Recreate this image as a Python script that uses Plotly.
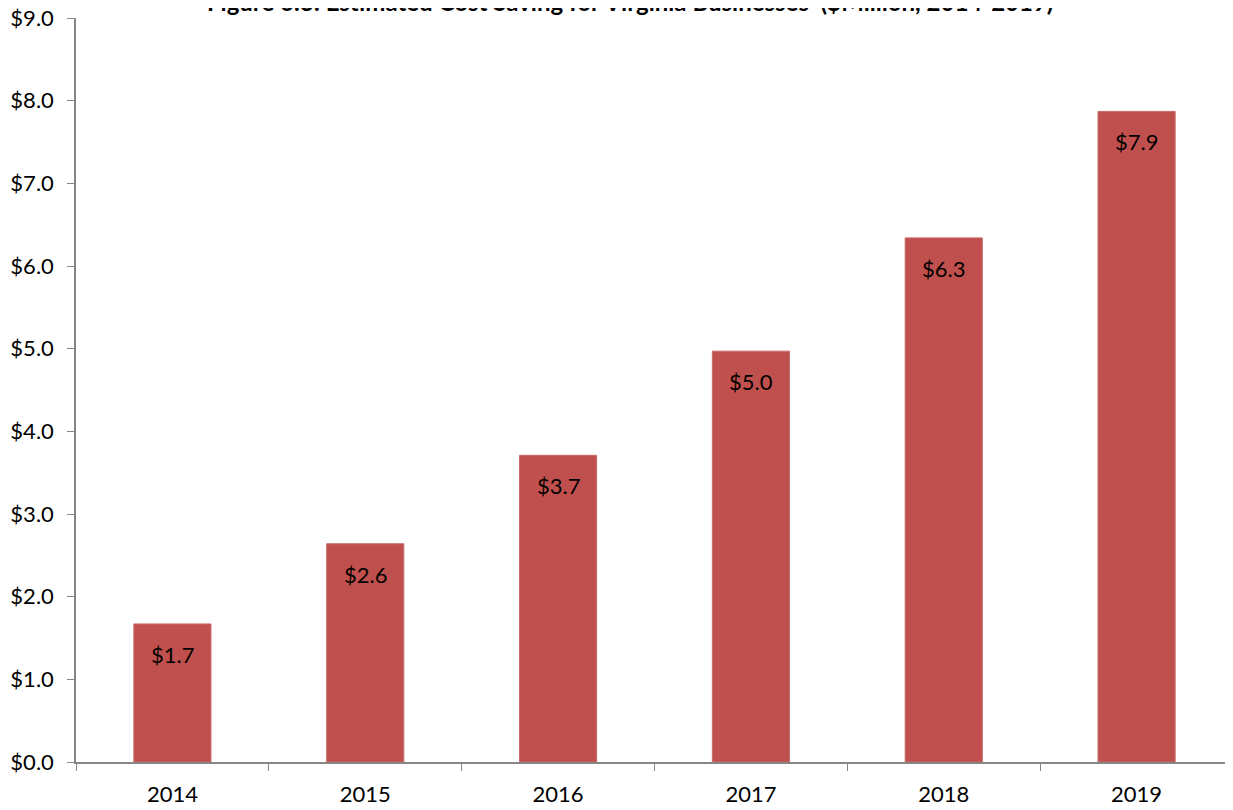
import plotly.graph_objects as go

years = ["2014", "2015", "2016", "2017", "2018", "2019"]
savings = [1.67, 2.64, 3.71, 4.97, 6.34, 7.87]
labels = ["$1.7", "$2.6", "$3.7", "$5.0", "$6.3", "$7.9"]
yticks = [0, 1, 2, 3, 4, 5, 6, 7, 8, 9]
ytick_text = ["$%.1f" % v for v in yticks]
title_text = "Figure 6.3: Estimated Cost Saving for Virginia Businesses  ($Million, 2014-2019)"

FONT = "Lato, 'Open Sans', sans-serif"

fig = go.Figure()
fig.add_trace(go.Bar(
    x=years, y=savings,
    marker=dict(color="#C0504D", line=dict(color="#C86A67", width=1)),
    width=0.4,
    hoverinfo="skip",
))

annotations = []
for i, (y, t) in enumerate(zip(savings, labels)):
    annotations.append(dict(x=i, y=y, xref="x", yref="y", text=t, showarrow=False,
                            yanchor="top", yshift=-15,
                            font=dict(family=FONT, size=22, color="#000000")))
annotations.append(dict(x=0.479, y=1.0, xref="paper", yref="paper", text="<b>" + title_text + "</b>",
                        showarrow=False, xanchor="center", yanchor="bottom",
                        font=dict(family=FONT, size=24, color="#000000")))

fig.update_layout(
    width=1233, height=810,
    margin=dict(l=68, r=8, t=10, b=56),
    paper_bgcolor="white", plot_bgcolor="white",
    showlegend=False,
    annotations=annotations,
    font=dict(family=FONT, size=22, color="#000000"),
    xaxis=dict(type="category", range=[-0.5, len(years) - 0.5], tickson="boundaries",
               ticks="outside", ticklen=7, automargin=False, ticklabelstandoff=12,
               tickcolor="#868686", showline=True, linecolor="#868686", linewidth=1.5,
               showgrid=False, tickfont=dict(size=22, family=FONT), fixedrange=True),
    yaxis=dict(range=[0, 9], tickvals=yticks, ticktext=ytick_text, ticks="outside", ticklen=7,
               automargin=False, ticklabeloverflow="allow", ticklabelstandoff=9,
               tickcolor="#868686", showline=True, linecolor="#868686", linewidth=1.5,
               showgrid=False, zeroline=False, tickfont=dict(size=22, family=FONT), fixedrange=True),
)

fig.write_html("out.html")
